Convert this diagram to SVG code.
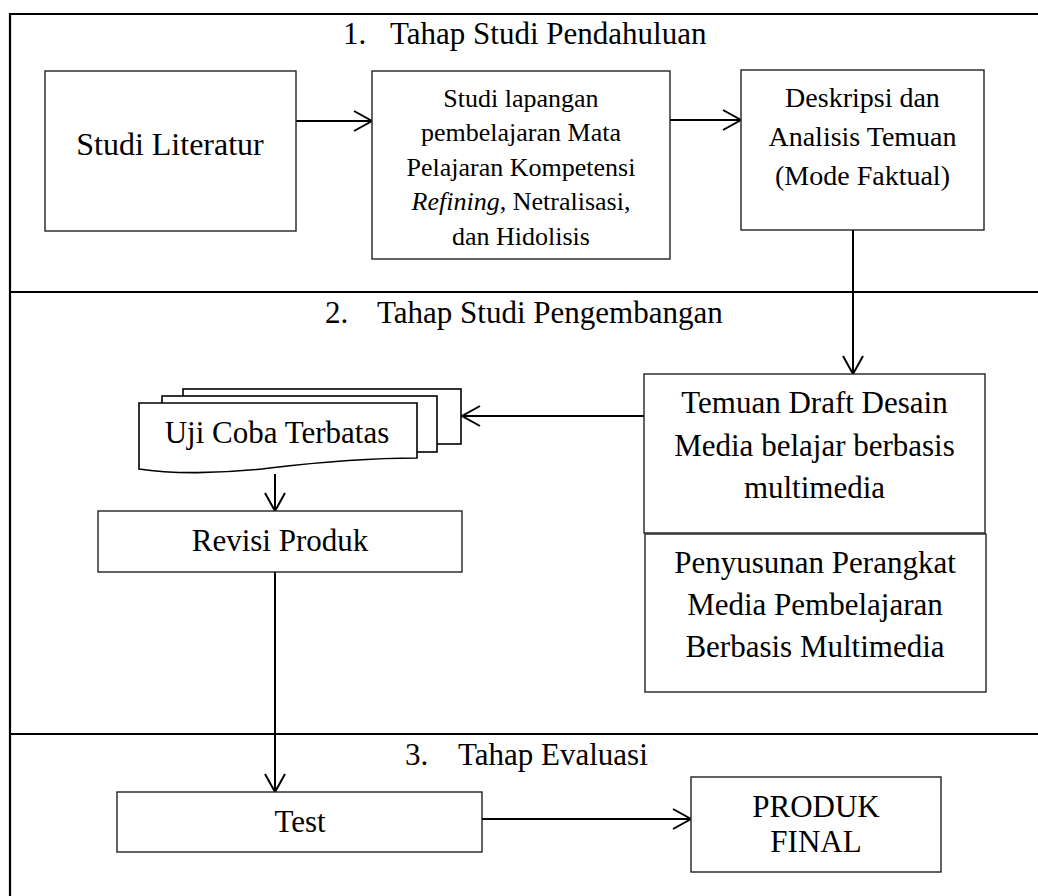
<svg xmlns="http://www.w3.org/2000/svg" width="1038" height="896" viewBox="0 0 1038 896">
<style>
  text { font-family: "Liberation Serif", "Times New Roman", serif; fill: #000; }
  .t31 { font-size: 31px; }
  .t26 { font-size: 26px; text-anchor: middle; }
  .t28 { font-size: 28px; text-anchor: middle; }
  .c31 { font-size: 31px; text-anchor: middle; }
  .box { fill: #fff; stroke: #222; stroke-width: 1.4; }
  .frame { fill: none; stroke: #000; stroke-width: 2.2; }
  .conn { fill: none; stroke: #000; stroke-width: 2; marker-end: url(#arr); }
</style>
<defs>
  <marker id="arr" markerUnits="userSpaceOnUse" markerWidth="24" markerHeight="24" viewBox="0 0 24 24" refX="20" refY="12" orient="auto">
    <path d="M2,2 L20,12 L2,22" fill="none" stroke="#000" stroke-width="2"/>
  </marker>
</defs>
<rect width="1038" height="896" fill="#fff"/>

<g id="frame">
  <path class="frame" d="M1040,14 H10 V898"/>
  <line class="frame" x1="10" y1="292" x2="1040" y2="292"/>
  <line class="frame" x1="10" y1="734" x2="1040" y2="734"/>
  <text class="t31" x="343" y="44">1.</text>
  <text class="t31" x="390" y="44">Tahap Studi Pendahuluan</text>
  <text class="t31" x="325" y="323">2.</text>
  <text class="t31" x="377" y="323">Tahap Studi Pengembangan</text>
  <text class="t31" x="405" y="765">3.</text>
  <text class="t31" x="458" y="765">Tahap Evaluasi</text>
</g>

<g id="connectors">
  <line class="conn" x1="296" y1="121" x2="372" y2="121"/>
  <line class="conn" x1="670" y1="120" x2="741" y2="120"/>
  <line class="conn" x1="853" y1="230" x2="853" y2="374"/>
  <line class="conn" x1="644" y1="416" x2="462" y2="416"/>
  <line class="conn" x1="275" y1="474" x2="275" y2="511"/>
  <line class="conn" x1="275" y1="572" x2="275" y2="792"/>
  <line class="conn" x1="482" y1="819" x2="691" y2="819"/>
</g>

<g id="studi-literatur">
  <rect class="box" x="45" y="71" width="251" height="160"/>
  <text x="170" y="155" style="font-size:32px;text-anchor:middle">Studi Literatur</text>
</g>

<g id="studi-lapangan">
  <rect class="box" x="372" y="71" width="298" height="188"/>
  <text class="t26" x="521" y="107">Studi lapangan</text>
  <text class="t26" x="521" y="141">pembelajaran Mata</text>
  <text class="t26" x="521" y="176">Pelajaran Kompetensi</text>
  <text class="t26" x="521" y="210"><tspan font-style="italic">Refining</tspan>, Netralisasi,</text>
  <text class="t26" x="521" y="245">dan Hidolisis</text>
</g>

<g id="deskripsi">
  <rect class="box" x="741" y="70" width="243" height="160"/>
  <text class="t28" x="862.5" y="107">Deskripsi dan</text>
  <text class="t28" x="862.5" y="146">Analisis Temuan</text>
  <text class="t28" x="862.5" y="185">(Mode Faktual)</text>
</g>

<g id="temuan">
  <rect class="box" x="644" y="374" width="341" height="159"/>
  <text class="c31" x="814.5" y="413">Temuan Draft Desain</text>
  <text class="c31" x="814.5" y="456">Media belajar berbasis</text>
  <text class="c31" x="814.5" y="498">multimedia</text>
</g>

<g id="penyusunan">
  <rect class="box" x="645" y="534" width="341" height="158"/>
  <text class="c31" x="815" y="573">Penyusunan Perangkat</text>
  <text class="c31" x="815" y="615">Media Pembelajaran</text>
  <text class="c31" x="815" y="657">Berbasis Multimedia</text>
</g>

<g id="uji-coba">
  <rect x="183" y="389" width="278" height="55" fill="#fff" stroke="#000" stroke-width="1.6"/>
  <rect x="162" y="396" width="275" height="56" fill="#fff" stroke="#000" stroke-width="1.6"/>
  <path d="M139,403 H417 V458 C380,458 320,462 270,468 C220,474 170,474 139,469 Z" fill="#fff" stroke="#000" stroke-width="1.6"/>
  <text class="c31" x="277" y="443">Uji Coba Terbatas</text>
</g>

<g id="revisi">
  <rect class="box" x="98" y="511" width="364" height="61"/>
  <text class="c31" x="280" y="551">Revisi Produk</text>
</g>

<g id="test">
  <rect class="box" x="117" y="792" width="365" height="60"/>
  <text class="c31" x="300" y="832">Test</text>
</g>

<g id="produk-final">
  <rect class="box" x="691" y="777" width="250" height="95"/>
  <text class="c31" x="816" y="817">PRODUK</text>
  <text class="c31" x="816" y="852">FINAL</text>
</g>
</svg>
